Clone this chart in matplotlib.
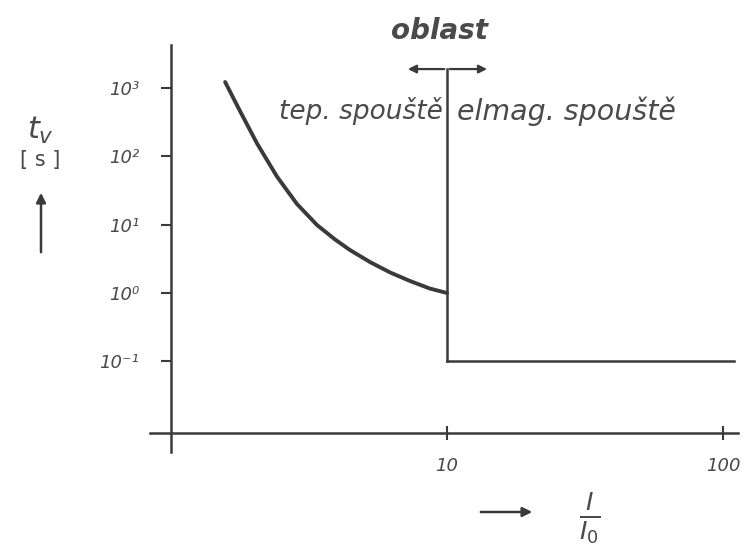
import matplotlib
matplotlib.use("Agg")
import matplotlib.pyplot as plt
import numpy as np

# ---- data ----
curve_x = [1.571, 1.778, 2.05, 2.42, 2.86, 3.38, 3.93, 4.45, 5.26, 6.22, 7.34, 8.68, 10.0]
curve_y = [1228, 462, 154.5, 50.8, 20.1, 9.90, 6.07, 4.26, 2.84, 2.00, 1.50, 1.16, 1.0]
trip_x = 10.0                 # instantaneous trip point I/In
trip_top = 1900               # top of the vertical boundary line
inst_time = 0.1               # electromagnetic trip time [s]
inst_end = 110                # end of the flat part
region_arrow = [7.05, 14.3]   # "oblast" arrow extent
ytick_vals = [0.1, 1, 10, 100, 1000]
ytick_labels = ["10⁻¹", "10⁰", "10¹", "10²", "10³"]
xtick_vals = [10, 100]
xtick_labels = ["10", "100"]

W, H = 749, 554
fig = plt.figure(figsize=(W / 100, H / 100), dpi=100)
ax = fig.add_axes([0, 0, 1, 1])
ax.set_xscale("log")
ax.set_yscale("log")

# pixel mapping: x=10 at px 447, 276 px/decade ; y=1 at px 293, 68.3 px/decade
def xv(px):
    return 10 ** (1 + (px - 447) / 276)

def yv(py):
    return 10 ** ((293 - py) / 68.3)

ax.set_xlim(xv(0), xv(W))
ax.set_ylim(yv(H), yv(0))
ax.patch.set_alpha(0)

ink = "#3a3a3a"
tink = "#4a4a4a"

# axes spines
for s in ["top", "right"]:
    ax.spines[s].set_visible(False)
ax.spines["left"].set_position(("data", 1.0))
ax.spines["left"].set_bounds(yv(452), yv(45))
ax.spines["bottom"].set_position(("data", yv(433)))
ax.spines["bottom"].set_bounds(xv(150), xv(738))
for s in ["left", "bottom"]:
    ax.spines[s].set_color(ink)
    ax.spines[s].set_linewidth(1.8)

ax.set_yticks(ytick_vals)
ax.set_yticklabels(ytick_labels)
ax.yaxis.set_minor_locator(matplotlib.ticker.NullLocator())
ax.tick_params(axis="y", direction="out", length=7, width=1.5, color=ink,
               labelsize=13, labelcolor=tink, pad=16)
for lab in ax.get_yticklabels():
    lab.set_style("italic")

ax.set_xticks(xtick_vals)
ax.set_xticklabels(xtick_labels)
ax.xaxis.set_minor_locator(matplotlib.ticker.NullLocator())
ax.tick_params(axis="x", direction="inout", length=10, width=1.5, color=ink,
               labelsize=13, labelcolor=tink, pad=12)
for lab in ax.get_xticklabels():
    lab.set_style("italic")

# curve (thermal trip)
ax.plot(curve_x, curve_y, color=ink, lw=2.8, solid_capstyle="round",
        solid_joinstyle="round")
# vertical boundary and instantaneous part
ax.plot([trip_x, trip_x], [inst_time, trip_top], color=ink, lw=1.8)
ax.plot([trip_x, inst_end], [inst_time, inst_time], color=ink, lw=1.8)

# region arrow
ax.annotate("", xy=(region_arrow[0], trip_top), xytext=(trip_x, trip_top),
            arrowprops=dict(arrowstyle="-|>", color=ink, lw=1.6, mutation_scale=12))
ax.annotate("", xy=(region_arrow[1], trip_top), xytext=(trip_x, trip_top),
            arrowprops=dict(arrowstyle="-|>", color=ink, lw=1.6, mutation_scale=12))

ax.text(xv(440), yv(31), "oblast", ha="center", va="center", fontsize=20,
        style="italic", weight="bold", color=tink)
ax.text(xv(443), yv(111), "tep. spouště", ha="right", va="center", fontsize=19,
        style="italic", color=tink)
ax.text(xv(457), yv(111), "elmag. spouště", ha="left", va="center", fontsize=20.5,
        style="italic", color=tink)

# y-axis label
fig.text(40 / W, 1 - 130 / H, r"$t_v$", ha="center", va="center", fontsize=22, color=tink)
fig.text(40 / W, 1 - 160 / H, "[ s ]", ha="center", va="center", fontsize=15, color=tink)
fig.add_artist(matplotlib.patches.FancyArrowPatch((41 / W, 1 - 255 / H), (41 / W, 1 - 190 / H),
               transform=fig.transFigure, arrowstyle="-|>", mutation_scale=14, color=ink, lw=1.8))

# x-axis label
fig.add_artist(matplotlib.patches.FancyArrowPatch((478 / W, 1 - 512 / H), (535 / W, 1 - 512 / H),
               transform=fig.transFigure, arrowstyle="-|>", mutation_scale=14, color=ink, lw=1.8))
fig.text(590 / W, 1 - 518 / H, r"$\frac{I}{I_0}$", ha="center", va="center", fontsize=26, color=tink)

fig.savefig("out.png", dpi=100, facecolor="white")
